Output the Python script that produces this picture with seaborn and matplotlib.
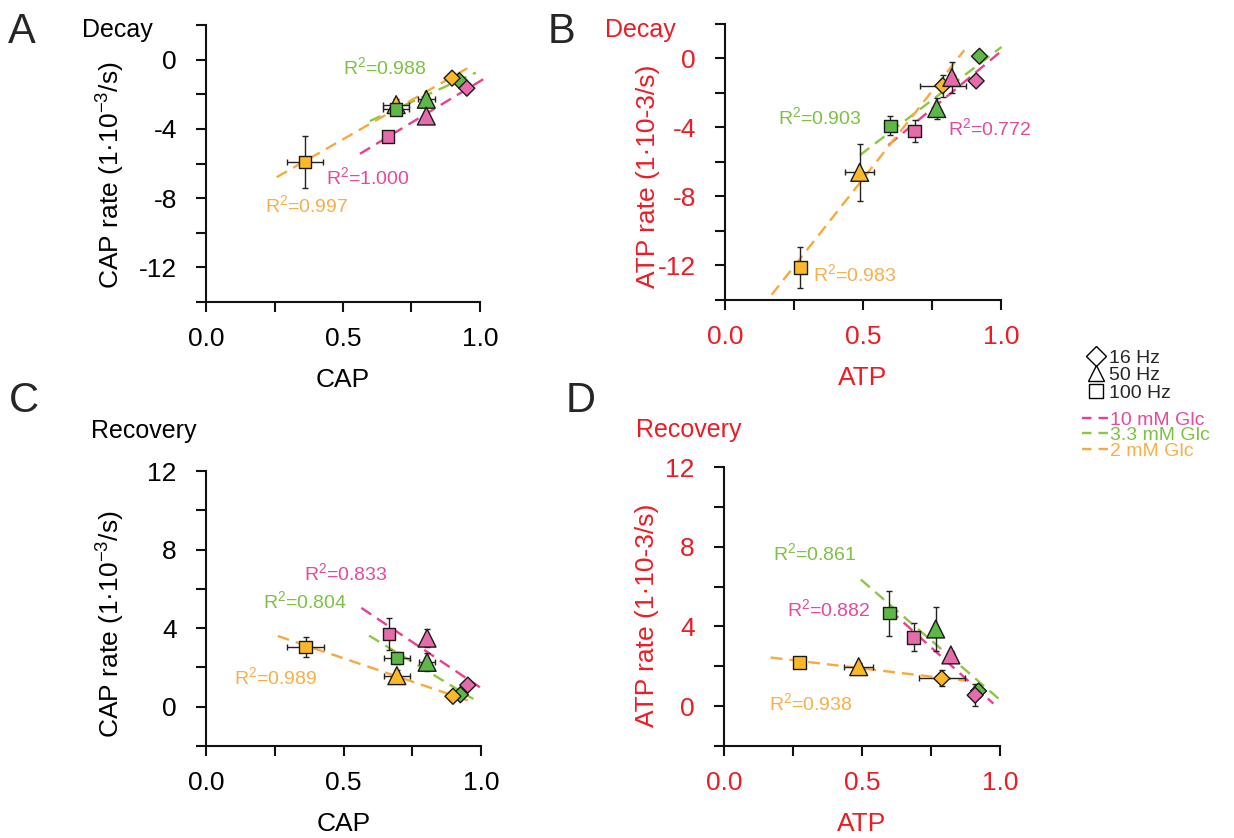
import pandas as pd
import seaborn as sns
import matplotlib.pyplot as plt
from matplotlib.lines import Line2D

# conditions (order of every list below: 10 mM 16/50/100 Hz, 3.3 mM ..., 2 mM ...)
glc = ["10 mM Glc", "3.3 mM Glc", "2 mM Glc"]
hz = ["16 Hz", "50 Hz", "100 Hz"]

cap_x = [0.952, 0.804, 0.665, 0.925, 0.804, 0.694, 0.898, 0.694, 0.362]
cap_xerr = [0.005, 0.005, 0.005, 0.005, 0.03, 0.047, 0.005, 0.047, 0.066]
atp_x = [0.910, 0.822, 0.687, 0.922, 0.767, 0.599, 0.789, 0.488, 0.273]
atp_xerr = [0.005, 0.01, 0.015, 0.005, 0.01, 0.015, 0.083, 0.053, 0.015]

cap_decay = [-1.65, -3.26, -4.43, -1.22, -2.29, -2.87, -1.07, -2.6, -5.92]
cap_decay_err = [0.15, 0.2, 0.15, 0.15, 0.25, 0.35, 0.15, 0.3, 1.5]
atp_decay = [-1.30, -1.1, -4.21, 0.13, -2.9, -3.9, -1.58, -6.6, -12.12]
atp_decay_err = [0.15, 0.9, 0.65, 0.15, 0.6, 0.55, 0.65, 1.67, 1.17]
cap_rec = [1.1, 3.49, 3.71, 0.61, 2.26, 2.48, 0.53, 1.58, 3.03]
cap_rec_err = [0.15, 0.45, 0.83, 0.15, 0.45, 0.3, 0.15, 0.3, 0.5]
atp_rec = [0.55, 2.57, 3.45, 0.76, 3.87, 4.67, 1.39, 1.98, 2.19]
atp_rec_err = [0.55, 0.2, 0.7, 0.3, 1.12, 1.13, 0.4, 0.2, 0.2]

# linear fits, end points per glucose level
fit_a_x = [[0.562, 1.012], [0.598, 0.985], [0.258, 0.970]]
fit_a_y = [[-5.44, -1.13], [-3.55, -0.75], [-6.79, -0.35]]
fit_b_x = [[0.592, 1.008], [0.489, 1.002], [0.169, 0.867]]
fit_b_y = [[-5.02, 0.52], [-5.6, 0.67], [-13.7, 0.48]]
fit_c_x = [[0.565, 0.996], [0.593, 0.972], [0.261, 0.954]]
fit_c_y = [[5.03, 0.99], [3.62, 0.39], [3.6, 0.31]]
fit_d_x = [[0.60, 0.976], [0.496, 0.998], [0.169, 0.873]]
fit_d_y = [[4.83, 0.13], [6.35, 0.34], [2.44, 1.28]]

r2_a = [1.000, 0.988, 0.997]
r2_b = [0.772, 0.903, 0.983]
r2_c = [0.833, 0.804, 0.989]
r2_d = [0.882, 0.861, 0.938]

# where the R2 labels sit (data coords)
r2_pos_a = [(0.438, -6.81), (0.50, -0.41), (0.215, -8.39)]
r2_pos_b = [(0.808, -4.03), (0.192, -3.4), (0.319, -12.48)]
r2_pos_c = [(0.356, 6.79), (0.206, 5.36), (0.103, 1.5)]
r2_pos_d = [(0.23, 4.88), (0.176, 7.7), (0.163, 0.14)]

sns.set_style("ticks")
plt.rcParams["font.family"] = ["Liberation Sans", "DejaVu Sans"]
plt.rcParams["mathtext.fontset"] = "custom"
plt.rcParams["mathtext.rm"] = "Liberation Sans"
plt.rcParams["mathtext.default"] = "regular"
plt.rcParams["axes.unicode_minus"] = False

RED = "#ED1C24"
marker_pal = {"10 mM Glc": "#E56BAA", "3.3 mM Glc": "#5DB847", "2 mM Glc": "#FDB827"}
line_pal = {"10 mM Glc": "#EC3D8E", "3.3 mM Glc": "#8DC63F", "2 mM Glc": "#F9A83C"}
text_pal = {"10 mM Glc": "#E8489A", "3.3 mM Glc": "#7DC142", "2 mM Glc": "#F9AE48"}
markers = {"16 Hz": "D", "50 Hz": "^", "100 Hz": "s"}
sizes = {"16 Hz": 66, "50 Hz": 165, "100 Hz": 80}

W, H = 1234, 838
fig = plt.figure(figsize=(W / 100, H / 100), dpi=100)


def rect(l, t, r, b):
    return [l / W, 1 - b / H, (r - l) / W, (b - t) / H]


def make_df(x, xerr, y, yerr):
    df = pd.DataFrame({
        "x": x, "xerr": xerr, "y": y, "yerr": yerr,
        "glc": [g for g in glc for _ in hz],
        "hz": hz * 3,
    })
    # draw order: by frequency, green under pink under orange
    df["o1"] = df["hz"].map({h: i for i, h in enumerate(hz)})
    df["o2"] = df["glc"].map({"3.3 mM Glc": 0, "10 mM Glc": 1, "2 mM Glc": 2})
    return df.sort_values(["o1", "o2"])


def panel(pos, df, fx, fy, r2, r2pos, ylim, yticks, yminor, xlabel, ylabel, color, ylab_xy):
    ax = fig.add_axes(rect(*pos))
    for g, xs, ys in zip(glc, fx, fy):
        ax.plot(xs, ys, color=line_pal[g], lw=1.7, dashes=(5, 3), zorder=2, clip_on=False)
    ax.errorbar(df["x"], df["y"], xerr=df["xerr"], yerr=df["yerr"], fmt="none",
                ecolor="#222222", elinewidth=1, capsize=2.5, capthick=1, zorder=2.5)
    sns.scatterplot(data=df, x="x", y="y", hue="glc", style="hz", size="hz",
                    palette=marker_pal, markers=markers, sizes=sizes,
                    edgecolor="#1a1a1a", linewidth=1, legend=False, ax=ax, zorder=3)
    for g, val, (tx, ty) in zip(glc, r2, r2pos):
        ax.text(tx, ty, f"R$^2$={val:.3f}", color=text_pal[g], fontsize=14, va="center", ha="left")
    ax.set_xlim(0, 1)
    ax.set_ylim(*ylim)
    ax.set_xticks([0, 0.5, 1.0])
    ax.set_xticklabels(["0.0", "0.5", "1.0"])
    ax.set_xticks([0.25, 0.75], minor=True)
    ax.set_yticks(yticks)
    ax.set_yticklabels([str(t) for t in yticks])
    ax.set_yticks(yminor, minor=True)
    ax.tick_params(which="both", direction="out", length=7, width=1.5, colors="#111111",
                   labelsize=19)
    ax.tick_params(axis="x", labelcolor=color, pad=11)
    ax.tick_params(axis="y", labelcolor=color, pad=14)
    for s in ["left", "bottom"]:
        ax.spines[s].set_linewidth(1.5)
        ax.spines[s].set_color("#111111")
    sns.despine(ax=ax)
    ax.set_xlabel(xlabel, fontsize=19, color=color, labelpad=12)
    ax.set_ylabel(ylabel, fontsize=19, color=color)
    ax.yaxis.set_label_coords(*ylab_xy)
    return ax


df_a = make_df(cap_x, cap_xerr, cap_decay, cap_decay_err)
df_b = make_df(atp_x, atp_xerr, atp_decay, atp_decay_err)
df_c = make_df(cap_x, cap_xerr, cap_rec, cap_rec_err)
df_d = make_df(atp_x, atp_xerr, atp_rec, atp_rec_err)

dec_ticks, dec_minor = [0, -4, -8, -12], [2, -2, -6, -10, -14]
rec_ticks, rec_minor = [12, 8, 4, 0], [10, 6, 2, -2]

panel((206, 25, 480, 302), df_a, fit_a_x, fit_a_y, r2_a, r2_pos_a, (-14, 2), dec_ticks, dec_minor,
      "CAP", "CAP rate (1·10$^{-3}$/s)", "black", (-0.288, 0.458))
panel((725, 24, 1001, 300), df_b, fit_b_x, fit_b_y, r2_b, r2_pos_b, (-14, 2), dec_ticks, dec_minor,
      "ATP", "ATP rate (1·10-3/s)", RED, (-0.236, 0.449))
panel((206, 471, 481, 746), df_c, fit_c_x, fit_c_y, r2_c, r2_pos_c, (-2, 12), rec_ticks, rec_minor,
      "CAP", "CAP rate (1·10$^{-3}$/s)", "black", (-0.287, 0.444))
panel((724, 467, 1000, 746), df_d, fit_d_x, fit_d_y, r2_d, r2_pos_d, (-2, 12), rec_ticks, rec_minor,
      "ATP", "ATP rate (1·10-3/s)", RED, (-0.236, 0.47))

# panel letters and titles
for lab, x, y in [("A", 8, 43), ("B", 548, 43), ("C", 9, 412), ("D", 566, 412)]:
    fig.text(x / W, 1 - y / H, lab, fontsize=30, va="baseline", ha="left")
for lab, x, y, c in [("Decay", 82, 37, "black"), ("Decay", 605, 37, RED),
                     ("Recovery", 91, 438, "black"), ("Recovery", 636, 437, RED)]:
    fig.text(x / W, 1 - y / H, lab, fontsize=18, va="baseline", ha="left", color=c)

# legends
hz_handles = [Line2D([], [], ls="none", marker=markers[h], markersize=10 if h != "50 Hz" else 12,
                     mfc="white", mec="black", mew=1) for h in hz]
fig.legend(hz_handles, hz, loc="upper left", bbox_to_anchor=(1086 / W, 1 - 349 / H),
           frameon=False, fontsize=14, handlelength=1.05, handletextpad=0.15,
           labelspacing=0.0, borderpad=0, borderaxespad=0)
glc_handles = [Line2D([], [], color=line_pal[g], lw=1.7, dashes=(4, 3)) for g in glc]
fig.legend(glc_handles, glc, loc="upper left", bbox_to_anchor=(1082 / W, 1 - 411 / H),
           frameon=False, fontsize=14, handlelength=1.35, handletextpad=0.1,
           labelspacing=-0.11, borderpad=0, borderaxespad=0,
           labelcolor=[text_pal[g] for g in glc])

fig.savefig("out.png", dpi=100)
